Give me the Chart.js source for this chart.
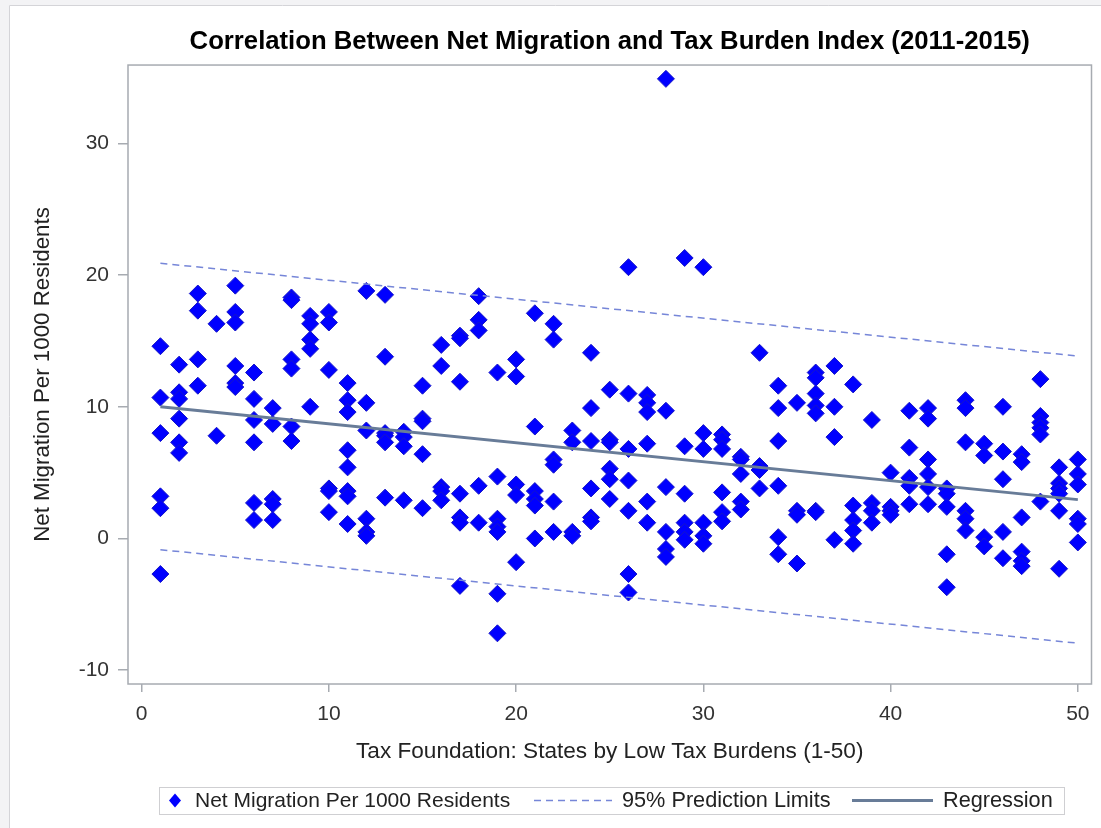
<!DOCTYPE html>
<html lang="en">
<head>
<meta charset="UTF-8" />
<title>Net Migration vs Tax Burden</title>
<script src="https://cdn.jsdelivr.net/npm/chart.js"></script>
<style>
    html, body { margin: 0; padding: 0; background: #fff; }
    #wrap { width: 1101px; height: 828px; }
</style>
</head>
<body>
<div id="wrap"><canvas id="migrationChart" width="1101" height="828"></canvas></div>
<script>
    // ---- data ----
    const chartTitle = 'Correlation Between Net Migration and Tax Burden Index (2011-2015)';
    const xTitle = 'Tax Foundation: States by Low Tax Burdens (1-50)';
    const yTitle = 'Net Migration Per 1000 Residents';
    const legendLabels = ['Net Migration Per 1000 Residents', '95% Prediction Limits', 'Regression'];

    const xTicks = [0, 10, 20, 30, 40, 50];
    const yTicks = [-10, 0, 10, 20, 30];

    // tax burden rank 1..50, one list of yearly values per rank
    const ranks = [1, 2, 3, 4, 5, 6, 7, 8, 9, 10, 11, 12, 13, 14, 15, 16, 17, 18, 19, 20, 21, 22, 23, 24, 25,
                   26, 27, 28, 29, 30, 31, 32, 33, 34, 35, 36, 37, 38, 39, 40, 41, 42, 43, 44, 45, 46, 47, 48, 49, 50];
    const migrationByRank = [
        [14.6, 10.7, 8.0, 3.2, 2.3, -2.7],
        [13.2, 11.1, 10.6, 9.1, 7.3, 6.5],
        [18.6, 17.3, 13.6, 11.6],
        [16.3, 7.8],
        [19.2, 17.2, 16.4, 13.1, 11.8, 11.5],
        [12.6, 10.6, 9.0, 7.3, 2.7, 1.4],
        [9.9, 8.7, 3.0, 2.6, 1.4],
        [18.3, 18.1, 13.6, 12.9, 8.5, 7.4],
        [16.9, 16.3, 15.1, 14.4, 10.0],
        [17.2, 16.4, 12.8, 3.8, 3.6, 2.0],
        [11.8, 10.5, 9.6, 6.7, 5.4, 3.6, 3.2, 1.1],
        [18.8, 10.3, 8.2, 1.5, 0.5, 0.2],
        [18.5, 13.8, 8.0, 7.8, 7.3, 3.1],
        [8.1, 7.7, 7.0, 2.9],
        [11.6, 9.1, 8.9, 6.4, 2.3],
        [14.7, 13.1, 3.9, 3.6, 2.9],
        [15.4, 15.2, 11.9, 3.4, 1.6, 1.2, -3.6],
        [18.4, 16.6, 15.8, 4.0, 1.2],
        [12.6, 4.7, 1.5, 0.9, 0.5, -4.2, -7.2],
        [13.6, 12.3, 4.1, 3.3, -1.8],
        [17.1, 8.5, 3.6, 3.0, 2.5, 0.0],
        [16.3, 15.1, 6.0, 5.6, 2.8, 0.5],
        [8.2, 7.3, 0.5, 0.2],
        [14.1, 9.9, 7.4, 3.8, 1.6, 1.3],
        [11.3, 7.5, 7.3, 5.3, 4.5, 3.0],
        [20.6, 11.0, 6.8, 4.4, 2.1, -2.7, -4.1],
        [10.9, 10.3, 9.6, 7.2, 2.8, 1.2],
        [34.9, 9.7, 3.9, 0.5, -0.8, -1.4],
        [21.3, 7.0, 3.4, 1.2, 0.5, -0.1],
        [20.6, 8.0, 6.8, 1.2, 0.2, -0.4],
        [7.9, 7.5, 6.8, 3.5, 2.0, 1.3],
        [6.2, 6.0, 4.9, 2.8, 2.2],
        [14.1, 5.5, 5.2, 3.8],
        [11.6, 9.9, 7.4, 4.0, 0.1, -1.2],
        [10.3, 2.1, 1.8, -1.9],
        [12.6, 12.2, 11.0, 10.1, 9.5, 2.1, 2.0],
        [13.1, 10.0, 7.7, -0.1],
        [11.7, 2.5, 1.4, 0.6, -0.4],
        [9.0, 2.7, 2.1, 1.2],
        [5.0, 2.4, 2.1, 1.8],
        [9.7, 6.9, 4.6, 4.0, 2.6],
        [9.9, 9.1, 6.0, 4.9, 3.9, 2.6],
        [3.8, 3.4, 2.4, -1.2, -3.7],
        [10.5, 9.9, 7.3, 2.1, 1.5, 0.6],
        [7.2, 6.3, 0.1, -0.6],
        [10.0, 6.6, 4.5, 0.5, -1.5],
        [6.4, 5.8, 1.6, -1.0, -1.7, -2.1],
        [12.1, 9.3, 8.8, 8.4, 7.9, 2.8],
        [5.4, 4.2, 3.8, 3.4, 2.1, -2.3],
        [6.0, 4.9, 4.1, 1.5, 1.1, -0.3]
    ];

    // fitted line and 95% prediction limits at both ends
    const fitX = [1, 50];
    const fitY = [10.0, 2.95];
    const upperY = [20.9, 13.85];
    const lowerY = [-0.85, -7.95];

    // ---- build the points ----
    const scatterPoints = [];
    ranks.forEach((r, i) => {
        migrationByRank[i].forEach(v => scatterPoints.push({ x: r, y: v }));
    });
    const toXY = ys => fitX.map((x, i) => ({ x: x, y: ys[i] }));

    const FONT = '"Liberation Sans", Arial, sans-serif';
    const AXIS_GRAY = '#a7abb1';
    const MARKER_BLUE = '#0000ff';
    const LIMIT_BLUE = '#7686d8';
    const FIT_COLOR = '#687c98';

    Chart.defaults.font.family = FONT;

    // light page background and outer frame, plus the box round the plot area
    const framePlugin = {
        id: 'frame',
        beforeDraw(chart) {
            const { ctx, width, height } = chart;
            ctx.save();
            ctx.fillStyle = '#f3f3f5';
            ctx.fillRect(0, 0, width, height);
            ctx.fillStyle = '#ffffff';
            ctx.fillRect(9, 5, width - 9, height - 5);
            ctx.strokeStyle = '#d4d4d8';
            ctx.lineWidth = 1;
            ctx.beginPath();
            ctx.moveTo(9.5, height);
            ctx.lineTo(9.5, 5.5);
            ctx.lineTo(width, 5.5);
            ctx.stroke();
            ctx.restore();
        },
        afterDraw(chart) {
            const { ctx, chartArea: a } = chart;
            ctx.save();
            ctx.strokeStyle = AXIS_GRAY;
            ctx.lineWidth = 1.5;
            ctx.strokeRect(a.left, a.top, a.right - a.left, a.bottom - a.top);
            ctx.restore();
        }
    };

    // SAS style legend in a thin box under the x axis title
    const boxLegendPlugin = {
        id: 'boxLegend',
        afterDraw(chart) {
            const ctx = chart.ctx;
            const cy = 800.5;
            ctx.save();
            ctx.strokeStyle = '#cfcfd2';
            ctx.lineWidth = 1;
            ctx.strokeRect(159.5, 787.5, 905, 27);

            // diamond marker
            ctx.fillStyle = MARKER_BLUE;
            ctx.beginPath();
            ctx.moveTo(175, cy - 7);
            ctx.lineTo(181, cy);
            ctx.lineTo(175, cy + 7);
            ctx.lineTo(169, cy);
            ctx.closePath();
            ctx.fill();

            // dashed limits sample
            ctx.strokeStyle = LIMIT_BLUE;
            ctx.lineWidth = 1.5;
            ctx.setLineDash([7, 5]);
            ctx.beginPath();
            ctx.moveTo(534, cy);
            ctx.lineTo(612, cy);
            ctx.stroke();
            ctx.setLineDash([]);

            // regression sample
            ctx.strokeStyle = FIT_COLOR;
            ctx.lineWidth = 3;
            ctx.beginPath();
            ctx.moveTo(852, cy);
            ctx.lineTo(933, cy);
            ctx.stroke();

            ctx.fillStyle = '#222';
            ctx.textBaseline = 'middle';
            ctx.font = '21px ' + FONT;
            ctx.fillText(legendLabels[0], 195, cy + 1);
            ctx.font = '21.7px ' + FONT;
            ctx.fillText(legendLabels[1], 622, cy + 1);
            ctx.fillText(legendLabels[2], 943, cy + 1);
            ctx.restore();
        }
    };

    new Chart(document.getElementById('migrationChart'), {
        type: 'scatter',
        data: {
            datasets: [
                {
                    label: legendLabels[2],
                    data: toXY(fitY),
                    showLine: true,
                    borderColor: FIT_COLOR,
                    borderWidth: 3,
                    pointRadius: 0,
                    order: 0
                },
                {
                    label: legendLabels[1],
                    data: toXY(upperY),
                    showLine: true,
                    borderColor: LIMIT_BLUE,
                    borderWidth: 1.5,
                    borderDash: [7, 5],
                    pointRadius: 0,
                    order: 1
                },
                {
                    label: legendLabels[1],
                    data: toXY(lowerY),
                    showLine: true,
                    borderColor: LIMIT_BLUE,
                    borderWidth: 1.5,
                    borderDash: [7, 5],
                    pointRadius: 0,
                    order: 1
                },
                {
                    label: legendLabels[0],
                    data: scatterPoints,
                    pointStyle: 'rectRot',
                    pointRadius: 8.5,
                    backgroundColor: MARKER_BLUE,
                    borderColor: '#1616c8',
                    borderWidth: 1,
                    order: 2
                }
            ]
        },
        options: {
            responsive: false,
            animation: false,
            events: [],
            layout: { padding: { left: 0, right: 8, top: 0, bottom: 60 } },
            scales: {
                x: {
                    type: 'linear',
                    min: -0.73,
                    max: 50.73,
                    afterBuildTicks: s => { s.ticks = xTicks.map(v => ({ value: v })); },
                    afterFit: s => { s.height = 84; },
                    grid: { drawOnChartArea: false, drawTicks: true, tickLength: 8, color: AXIS_GRAY, lineWidth: 1.5 },
                    border: { display: false },
                    ticks: { padding: 10, color: '#333', font: { size: 21 } },
                    title: { display: true, text: xTitle, color: '#222', font: { size: 22.6 }, padding: { top: 0, bottom: 3 } }
                },
                y: {
                    type: 'linear',
                    min: -11.05,
                    max: 35.95,
                    afterBuildTicks: s => { s.ticks = yTicks.map(v => ({ value: v })); },
                    afterFit: s => { s.width = 128; },
                    grid: { drawOnChartArea: false, drawTicks: true, tickLength: 10, color: AXIS_GRAY, lineWidth: 1.5 },
                    border: { display: false },
                    ticks: { padding: 9, color: '#333', font: { size: 21 } },
                    title: { display: true, text: yTitle, color: '#222', font: { size: 22.3 }, padding: { top: 29, bottom: 0 } }
                }
            },
            plugins: {
                title: {
                    display: true,
                    text: chartTitle,
                    fullSize: false,
                    color: '#000',
                    font: { size: 25.7, weight: 'bold' },
                    padding: { top: 26.5, bottom: 7.7 }
                },
                legend: { display: false },
                tooltip: { enabled: false }
            }
        },
        plugins: [framePlugin, boxLegendPlugin]
    });
</script>
</body>
</html>
